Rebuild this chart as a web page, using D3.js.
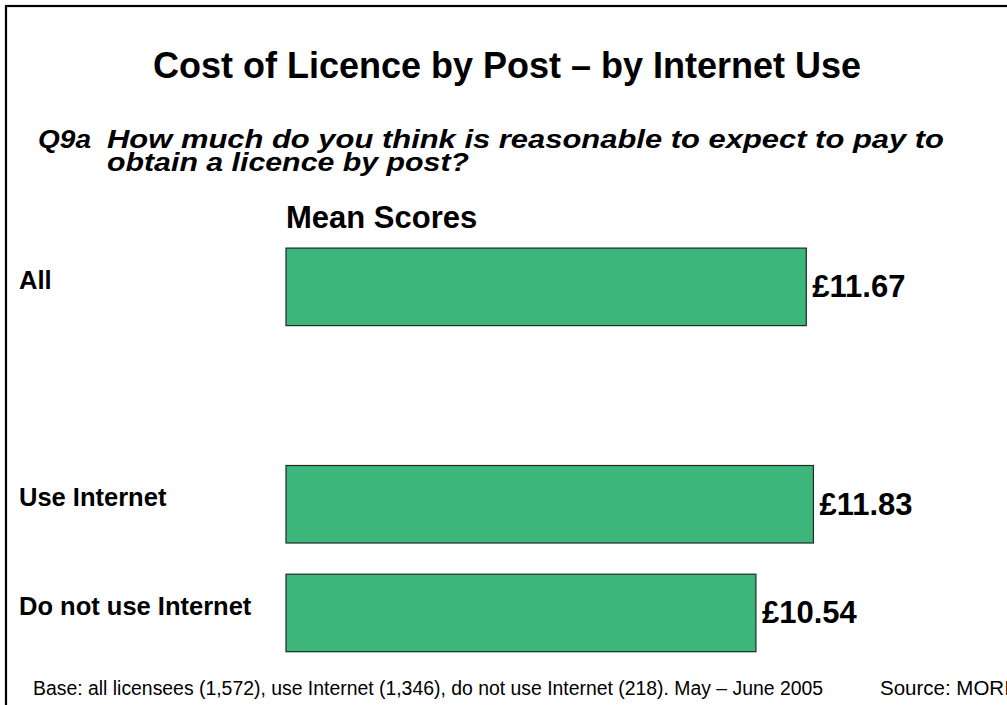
<!DOCTYPE html>
<html>
<head>
<meta charset="utf-8">
<script src="https://cdn.jsdelivr.net/npm/d3@7"></script>
<style>
  html, body { margin: 0; padding: 0; background: #fff; }
  svg { display: block; font-family: "Liberation Sans", Arial, sans-serif; }
</style>
</head>
<body>
<svg width="1007" height="705"></svg>
<script>
// Категории (пустая строка — промежуток между "All" и группами)
const categories = ["All", "", "Use Internet", "Do not use Internet"];
// Средние значения, £
const meanValues = [11.67, null, 11.83, 10.54];
const valueLabels = ["£11.67", "", "£11.83", "£10.54"];

const titleText = "Cost of Licence by Post – by Internet Use";
const questionNo = "Q9a";
const questionLines = ["How much do you think is reasonable to expect to pay to", "obtain a licence by post?"];
const subHeader = "Mean Scores";
const baseNote = "Base: all licensees (1,572), use Internet (1,346), do not use Internet (218). May – June 2005";
const sourceNote = "Source: MORI";

const svg = d3.select("svg");
const width = +svg.attr("width");
const height = +svg.attr("height");

svg.append("rect").attr("width", width).attr("height", height).attr("fill", "#fff");

// Рамка слайда (правый и нижний края за пределами кадра)
svg.append("rect")
    .attr("x", 6).attr("y", 6)
    .attr("width", 1100).attr("height", 800)
    .attr("fill", "none")
    .attr("stroke", "#000")
    .attr("stroke-width", 2.2);

// Заголовок
svg.append("text")
    .attr("x", 507).attr("y", 78)
    .attr("text-anchor", "middle")
    .attr("font-weight", "bold")
    .attr("font-size", 36)
    .text(titleText);

// Вопрос (текст в оригинале растянут по ширине)
const q = svg.append("g")
    .attr("font-weight", "bold")
    .attr("font-style", "italic")
    .attr("font-size", 25);
q.append("text")
    .attr("x", 38).attr("y", 148)
    .attr("textLength", 53)
    .attr("lengthAdjust", "spacingAndGlyphs")
    .text(questionNo);
const lineWidths = [837, 362];
q.selectAll("text.line")
    .data(questionLines)
    .join("text")
    .attr("class", "line")
    .attr("x", 107)
    .attr("y", (d, i) => 148 + i * 23)
    .attr("textLength", (d, i) => lineWidths[i])
    .attr("lengthAdjust", "spacingAndGlyphs")
    .text(d => d);

svg.append("text")
    .attr("x", 286).attr("y", 228)
    .attr("font-weight", "bold")
    .attr("font-size", 31)
    .text(subHeader);

// Шкалы
const x = d3.scaleLinear().domain([0, 12]).range([286, 821]);
const y = d3.scaleBand()
    .domain(categories)
    .range([232.5, 667.3])
    .paddingInner(0.287)
    .paddingOuter(0.1435);

const rows = categories.map((c, i) => ({cat: c, value: meanValues[i], label: valueLabels[i]}))
    .filter(d => d.value != null);

// Столбцы
svg.selectAll("rect.bar")
    .data(rows)
    .join("rect")
    .attr("class", "bar")
    .attr("x", x(0))
    .attr("y", d => y(d.cat))
    .attr("width", d => x(d.value) - x(0))
    .attr("height", y.bandwidth())
    .attr("fill", "#3cb67a")
    .attr("stroke", "#1f2a22")
    .attr("stroke-width", 1.2);

// Подписи значений
svg.selectAll("text.value")
    .data(rows)
    .join("text")
    .attr("class", "value")
    .attr("x", d => x(d.value) + 6)
    .attr("y", d => y(d.cat) + y.bandwidth() / 2 + 10.5)
    .attr("font-weight", "bold")
    .attr("font-size", 31)
    .text(d => d.label);

// Подписи категорий
svg.selectAll("text.cat")
    .data(rows)
    .join("text")
    .attr("class", "cat")
    .attr("x", 19)
    .attr("y", d => y(d.cat) + y.bandwidth() / 2 + 2)
    .attr("font-weight", "bold")
    .attr("font-size", 25.5)
    .text(d => d.cat);

// Примечания
svg.append("text")
    .attr("x", 33).attr("y", 695)
    .attr("font-size", 19.4)
    .text(baseNote);
svg.append("text")
    .attr("x", 880).attr("y", 695)
    .attr("font-size", 20.5)
    .text(sourceNote);
</script>
</body>
</html>
